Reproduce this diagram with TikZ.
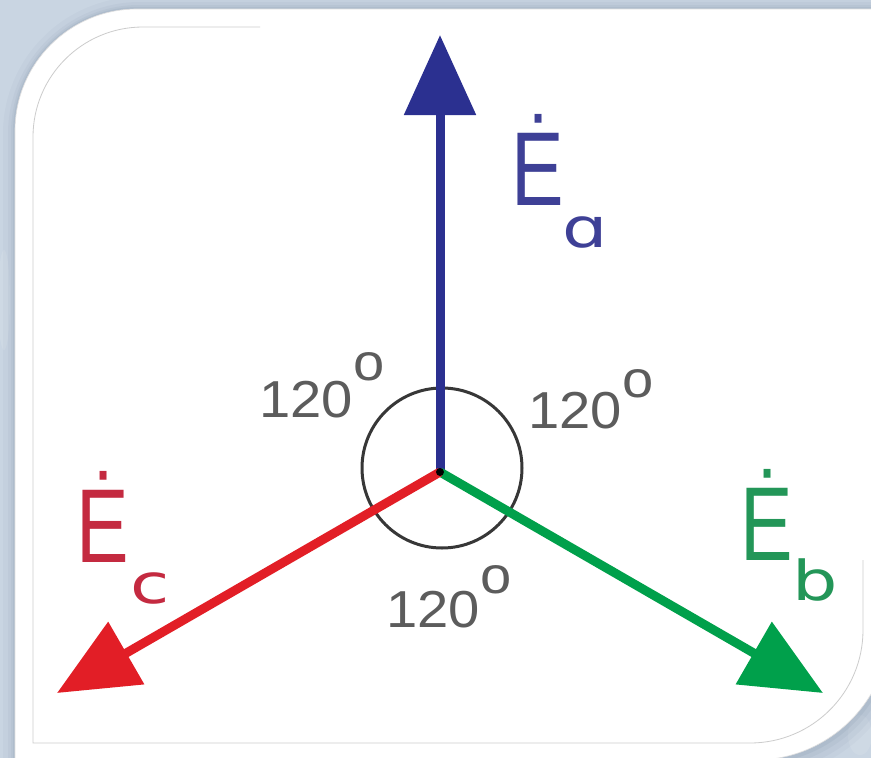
\documentclass[tikz,border=0pt]{standalone}
\usepackage{fontspec}
\setmainfont{Liberation Sans}
\newfontfamily\djv{DejaVu Sans}
\usetikzlibrary{arrows.meta}
\definecolor{bgcol}{RGB}{201,213,226}
\definecolor{shadowcol}{RGB}{80,100,130}
\definecolor{bluevec}{RGB}{43,48,144}
\definecolor{redvec}{RGB}{226,30,38}
\definecolor{greenvec}{RGB}{0,160,75}
\definecolor{bluetxt}{RGB}{62,64,150}
\definecolor{redtxt}{RGB}{196,42,64}
\definecolor{greentxt}{RGB}{35,150,88}
\definecolor{graytxt}{RGB}{92,92,92}
\definecolor{ringcol}{RGB}{55,55,55}
\newcommand\fsz[1]{\fontsize{#1}{#1}\selectfont}
\newcommand\outershape[1]{\path[#1] (15,760) -- (15,131) arc[start angle=180,end angle=270,radius=122] -- (890,9) -- (890,625) arc[start angle=0,end angle=90,radius=135] -- cycle;}
\begin{document}
\begin{tikzpicture}[x=1pt,y=-1pt,
  vec/.style={line width=9pt, -{Triangle[length=80pt,width=70pt]}},
  lbl/.style={inner sep=0pt, outer sep=0pt, anchor=base},
  sub/.style={lbl},
  deg/.style={lbl, text=graytxt}]
\useasboundingbox (0,0) rectangle (871,758);
\fill[bgcol] (0,0) rectangle (871,758);
% mottled background
\fill[white, opacity=0.10] (4,300) ellipse (6 and 50);
\fill[white, opacity=0.10] (860,735) ellipse (12 and 20);
% shadow of the card
\outershape{draw=shadowcol, line width=30pt, opacity=0.04, shift={(3,3)}}
\outershape{draw=shadowcol, line width=20pt, opacity=0.05, shift={(3,3)}}
\outershape{draw=shadowcol, line width=12pt, opacity=0.06, shift={(2,2)}}
\outershape{draw=shadowcol, line width=6pt, opacity=0.08, shift={(1,1)}}
% card
\outershape{fill=white, draw=gray!25, line width=0.6pt}
% inner frame line
\draw[gray!40, line width=0.8pt] (863,560) -- (863,630) arc[start angle=0,end angle=90,radius=113] -- (33,743) -- (33,137) arc[start angle=180,end angle=270,radius=110] -- (260,27);
% angle ring
\node[circle, draw=ringcol, line width=3pt, minimum size=160pt, inner sep=0pt] (ring) at (442,468) {};
% phasors
\coordinate (O) at (440,472);
\coordinate (A) at (440,35);
\coordinate (B) at (823,693);
\coordinate (C) at (57,693);
\draw[vec, bluevec] (O) -- (A);
\draw[vec, greenvec] (O) -- (B);
\draw[vec, redvec] (O) -- (C);
\node[circle, fill=black, minimum size=8pt, inner sep=0pt] (dot) at (O) {};
% phasor labels
\node[lbl, text=bluetxt] (Ea) at (538,205) {\scalebox{0.75}[1]{\fsz{105}Ė}};
\node[sub, text=bluetxt] (Easub) at (585,247) {\scalebox{1.3}[1]{\djv\fsz{55}ɑ}};
\node[lbl, text=redtxt] (Ec) at (103,562) {\scalebox{0.75}[1]{\fsz{105}Ė}};
\node[sub, text=redtxt] (Ecsub) at (150,603) {\scalebox{1.3}[1]{\djv\fsz{55}c}};
\node[lbl, text=greentxt] (Eb) at (767,560) {\scalebox{0.75}[1]{\fsz{105}Ė}};
\node[sub, text=greentxt] (Ebsub) at (815,600) {\scalebox{1.3}[1]{\djv\fsz{55}b}};
% angle labels
\node[deg] (ang1) at (322,417) {\scalebox{1.08}[1]{\fsz{52}120\raisebox{37pt}{o}}};
\node[deg] (ang2) at (591,428) {\scalebox{1.08}[1]{\fsz{52}120\raisebox{31pt}{o}}};
\node[deg] (ang3) at (449,627) {\scalebox{1.08}[1]{\fsz{52}120\raisebox{34pt}{o}}};
\end{tikzpicture}
\end{document}
